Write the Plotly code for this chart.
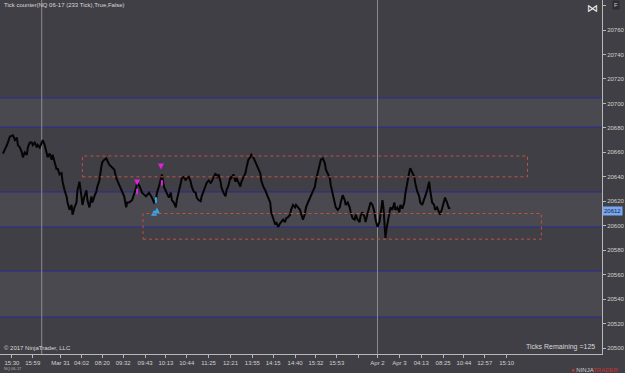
import plotly.graph_objects as go

# ---- data (bar index, price) ----
bar_idx = [3,7,10,13,15,17,18,20,22,23,25,27,28,30,32,33,35,37,38,40,42,43,45,47,48,50,52,53,55,57,58,60,62,63,65,67,68,70,72,73,75,77,78,80,82,83,85,87,88,90,92,93,95,97,98,100,102,103,105,107,110,113,115,117,120,123,125,127,128,
           130,133,137,138,140,142,143,147,150,153,155,157,158,160,162,163,165,167,168,170,172,173,175,177,178,180,182,183,185,187,188,190,192,193,195,197,198,200,202,203,205,207,208,210,212,213,215,217,218,220,222,223,225,227,228,230,232,233,235,237,238,240,242,243,245,247,248,250,252,253,255,257,258,
           260,262,263,265,267,268,270,272,273,275,277,278,280,282,283,285,287,288,290,292,293,295,297,298,300,302,303,305,307,308,310,312,313,315,317,318,320,322,323,325,327,328,330,332,333,335,337,338,340,342,343,345,347,348,350,352,353,355,357,358,360,362,363,365,367,368,370,372,373,375,377,378,380,382,383,385,386,387,388,389,391,392,393,395,397,398,400,402,403,405,407,408,410,412,413,415,417,418,420,422,423,425,427,428,430,432,433,435,437,438,440,442,443,445,447,448,450,452,453]
price = [20659,20666,20673,20674,20670,20672,20666,20664,20660,20656,20660,20658,20664,20668,20668,20666,20668,20664,20666,20664,20668,20670,20666,20660,20656,20659,20654,20658,20651,20646,20647,20642,20643,20636,20629,20624,20619,20613,20617,20609,20615,20619,20629,20636,20624,20617,20624,20629,20621,20615,20624,20619,20624,20628,20632,20637,20648,20652,20654,20655,20650,20648,20646,20639,20633,20628,20624,20615,20619,
         20619,20621,20631,20635,20633,20629,20627,20624,20627,20623,20619,20621,20627,20632,20639,20642,20632,20628,20627,20623,20627,20621,20619,20615,20621,20627,20635,20639,20640,20637,20639,20640,20636,20632,20628,20627,20623,20621,20620,20624,20629,20632,20635,20637,20635,20636,20640,20643,20639,20642,20636,20631,20627,20624,20629,20633,20640,20639,20642,20636,20639,20635,20632,20636,20639,20643,20647,20654,20656,20658,20656,20652,20650,
         20646,20643,20637,20632,20629,20627,20623,20619,20611,20606,20601,20603,20599,20602,20603,20605,20603,20606,20607,20609,20613,20617,20615,20617,20615,20613,20610,20605,20610,20615,20619,20623,20625,20628,20632,20637,20643,20650,20654,20655,20651,20646,20643,20639,20633,20625,20619,20615,20613,20615,20619,20625,20621,20617,20619,20615,20611,20606,20605,20609,20605,20603,20608,20611,20607,20603,20610,20615,20619,20617,20611,20605,20599,20603,20611,20621,20615,20598,20590,20597,20605,20611,20615,20613,20619,20613,20615,20611,20617,20614,20619,20626,20637,20644,20647,20644,20640,20635,20628,20624,20619,20617,20621,20624,20629,20636,20629,20619,20617,20613,20615,20611,20609,20614,20619,20623,20619,20614,20615]

# horizontal levels
level_prices = [20704.5, 20680.7, 20627.6, 20599.0, 20563.0, 20525.4]
band_lo = [20680.7, 20599.0, 20525.4]
band_hi = [20704.5, 20627.6, 20563.0]

# zone boxes
box_x0 = [83, 144]
box_x1 = [531, 545]
box_lo = [20640, 20589]
box_hi = [20657, 20610]

# vertical session lines
session_x = [42, 380]

# signal markers
sell_x = [138, 162]
sell_y = [20633, 20646]
sell_bar_x = [138, 163]
sell_bar_y = [20628, 20635]
buy_x = [155, 158]
buy_y = [20613, 20615]
buy_dot_x = [157]
buy_dot_y = [20621]

# axes
x_tickvals = [12,33,61,82,103,124,146,167,188,210,232,254,275,297,318,339,361,380,402,424,446,467,488,510]
x_ticktext = ["15:30","15:59","Mar 31","04:02","08:20","09:32","09:43","10:13","10:44","11:25","12:21","13:55",
              "14:15","14:40","15:32","15:53","","Apr 2","Apr 3","04:13","08:25","10:44","12:57","15:10"]
y_tickvals = [20500,20520,20540,20560,20580,20600,20620,20640,20660,20680,20700,20720,20740,20760,20780]
y_ticktext = [str(v) for v in y_tickvals[:-1]] + [""]
last_price = 20612
x_range = [0, 606]
y_range = [20495.1, 20784.6]

BG = "#403f45"
BAND = "#4a494f"
FONT = "Liberation Sans"

fig = go.Figure()

shapes = []
for lo, hi in zip(band_lo, band_hi):
    shapes.append(dict(type="rect", xref="paper", x0=0, x1=1, yref="y", y0=lo, y1=hi,
                       fillcolor=BAND, line=dict(width=0), layer="below"))
for p in level_prices:
    shapes.append(dict(type="line", xref="paper", x0=0, x1=1, yref="y", y0=p, y1=p,
                       line=dict(color="#2b2b96", width=1), layer="below"))
for sx in session_x:
    shapes.append(dict(type="line", xref="x", x0=sx, x1=sx, yref="paper", y0=0, y1=1,
                       line=dict(color="#8c8b90", width=1), layer="below"))
for a, b, lo, hi in zip(box_x0, box_x1, box_lo, box_hi):
    shapes.append(dict(type="rect", xref="x", x0=a, x1=b, yref="y", y0=lo, y1=hi,
                       line=dict(color="#c0523f", width=1, dash="dot"), fillcolor="rgba(0,0,0,0)"))

fig.add_trace(go.Scatter(x=bar_idx, y=price, mode="lines",
                         line=dict(color="#050505", width=2), hoverinfo="skip", showlegend=False))
fig.add_trace(go.Scatter(x=sell_x, y=sell_y, mode="markers",
                         marker=dict(symbol="arrow-down", size=6, color="#e020e0"), showlegend=False))
fig.add_trace(go.Scatter(x=sell_bar_x, y=sell_bar_y, mode="markers",
                         marker=dict(symbol="line-ns", size=4, line=dict(color="#e020e0", width=2)), showlegend=False))
fig.add_trace(go.Scatter(x=buy_x, y=buy_y, mode="markers",
                         marker=dict(symbol="arrow-up", size=6, color="#30a8f0"), showlegend=False))
fig.add_trace(go.Scatter(x=buy_dot_x, y=buy_dot_y, mode="markers",
                         marker=dict(symbol="line-ns", size=4, line=dict(color="#30a8f0", width=2)), showlegend=False))

annotations = [
    dict(text="Tick counter(NQ 06-17 (233 Tick),True,False)", xref="paper", yref="paper", x=0.004, y=0.985,
         xanchor="left", yanchor="middle", showarrow=False, font=dict(family=FONT, size=6, color="#d8d8d8")),
    dict(text="© 2017 NinjaTrader, LLC", xref="paper", yref="paper", x=0.004, y=0.018,
         xanchor="left", yanchor="middle", showarrow=False, font=dict(family=FONT, size=6, color="#d8d8d8")),
    dict(text="Ticks Remaining =125", xref="paper", yref="paper", x=0.992, y=0.02,
         xanchor="right", yanchor="middle", showarrow=False, font=dict(family=FONT, size=7, color="#d8d8d8")),
    dict(text=str(last_price), xref="paper", yref="y", x=1.0, y=last_price, xanchor="left", yanchor="middle",
         showarrow=False, bgcolor="#78a8f0", borderpad=1, font=dict(family=FONT, size=6, color="#1a1a40")),
    dict(text="NQ 06-17", xref="paper", yref="paper", x=0.004, y=-0.04, xanchor="left", yanchor="middle",
         showarrow=False, font=dict(family=FONT, size=4, color="#b0b0b0")),
    dict(text="<span style='color:#d03030'>●</span> NINJA<span style='color:#d03030'>TRADER</span>",
         xref="paper", yref="paper", x=1.031, y=-0.045,
         xanchor="right", yanchor="middle", showarrow=False, font=dict(family=FONT, size=6, color="#d0d0d0")),
    dict(text="⋈", xref="paper", yref="paper", x=0.984, y=0.975, xanchor="center", yanchor="middle",
         showarrow=False, font=dict(family="DejaVu Sans", size=11, color="#f0f0f0")),
    dict(text="F", xref="paper", yref="paper", x=1.024, y=0.985, xanchor="center", yanchor="middle",
         showarrow=False, bgcolor="#2e2d32", borderpad=1, font=dict(family=FONT, size=6, color="#d0d0d0")),
]

fig.update_layout(
    width=625, height=373,
    margin=dict(l=0, r=19, t=0, b=19),
    paper_bgcolor=BG, plot_bgcolor=BG,
    shapes=shapes, annotations=annotations, showlegend=False,
    xaxis=dict(range=x_range, tickmode="array", tickvals=x_tickvals, ticktext=x_ticktext,
               showgrid=False, zeroline=False, showline=True, linecolor="#b8b8b8", linewidth=1,
               ticks="outside", ticklen=3, tickcolor="#b8b8b8",
               tickfont=dict(family=FONT, size=6, color="#d0d0d0")),
    yaxis=dict(range=y_range, side="right", tickmode="array", tickvals=y_tickvals, ticktext=y_ticktext,
               showgrid=False, zeroline=False, showline=True, linecolor="#b8b8b8", linewidth=1,
               ticks="outside", ticklen=3, tickcolor="#b8b8b8",
               tickfont=dict(family=FONT, size=6, color="#d0d0d0")),
)

fig.write_html("out.html")
